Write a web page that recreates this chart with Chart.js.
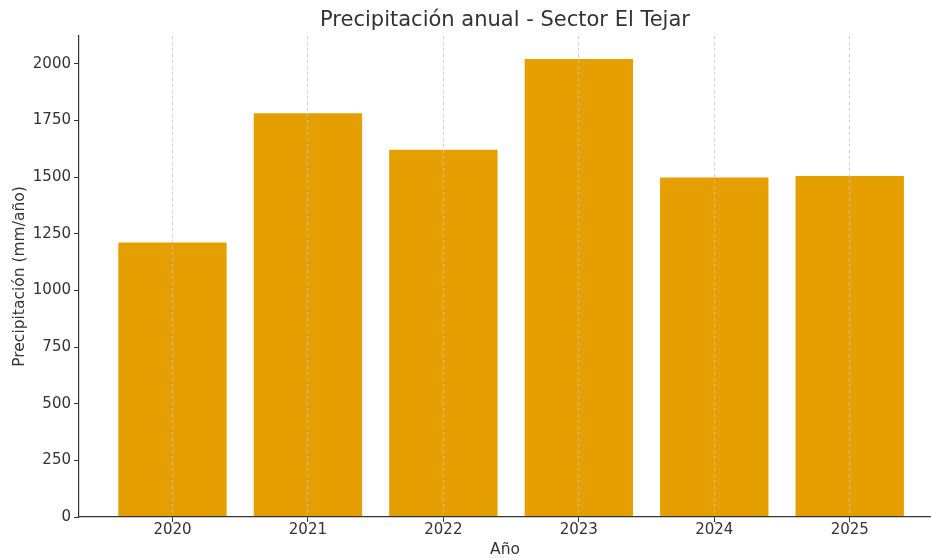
<!DOCTYPE html>
<html>
<head>
<meta charset="utf-8">
<script src="https://cdn.jsdelivr.net/npm/chart.js@4.4.1/dist/chart.umd.min.js"></script>
<style>
  html, body { margin: 0; padding: 0; background: #fff; }
  #wrap { width: 931px; height: 558px; }
</style>
</head>
<body>
<div id="wrap"><canvas id="rainChart"></canvas></div>
<script>
const years = [2020, 2021, 2022, 2023, 2024, 2025];
const rainfall = [1212, 1782, 1621, 2022, 1499, 1505];
const yTicks = [0, 250, 500, 750, 1000, 1250, 1500, 1750, 2000];

const chartTitle = 'Precipitación anual - Sector El Tejar';
const xLabel = 'Año';
const yLabel = 'Precipitación (mm/año)';

const family = "'DejaVu Sans', sans-serif";
const ink = '#333333';

// title centred over the plot area (matplotlib style), not the whole canvas
const plotTitle = {
    id: 'plotTitle',
    afterDraw(chart) {
        const { ctx, chartArea } = chart;
        ctx.save();
        ctx.font = '21px ' + family;
        ctx.fillStyle = ink;
        ctx.textAlign = 'center';
        ctx.textBaseline = 'middle';
        ctx.fillText(chartTitle, (chartArea.left + chartArea.right) / 2, 21);
        ctx.restore();
    }
};

const rainChart = new Chart('rainChart', {
    type: 'bar',
    data: {
        datasets: [{
            data: years.map((y, i) => ({ x: y, y: rainfall[i] })),
            backgroundColor: '#E69F00',
            borderWidth: 0,
            barPercentage: 0.8,
            categoryPercentage: 1.0
        }]
    },
    options: {
        responsive: true,
        maintainAspectRatio: false,
        animation: false,
        layout: { padding: { top: 36, right: 0, bottom: 0, left: 0 } },
        plugins: {
            legend: { display: false },
            tooltip: { enabled: false },
            title: { display: false }
        },
        scales: {
            x: {
                type: 'linear',
                min: 2019.31,
                max: 2025.6,
                offset: false,
                afterBuildTicks: s => { s.ticks = years.map(v => ({ value: v })); },
                afterFit: s => { s.height = 41; },
                // grid drawn above the bars, as in the reference
                grid: { z: 1, offset: false, color: '#c4c4c4', lineWidth: 0.8, drawTicks: true, tickLength: 5, tickColor: ink, tickWidth: 1, tickBorderDash: [] },
                border: { z: 1, display: true, color: ink, width: 1.2, dash: [3, 3] },
                ticks: { color: ink, font: { family, size: 15 }, padding: -1, autoSkip: false, maxRotation: 0, callback: v => String(v) },
                title: { display: true, text: xLabel, color: ink, font: { family, size: 15.5 }, padding: { top: 0, bottom: -1 } }
            },
            y: {
                min: 0,
                max: 2123,
                afterBuildTicks: s => { s.ticks = yTicks.map(v => ({ value: v })); },
                afterFit: s => { s.width = 79; },
                grid: { drawOnChartArea: false, drawTicks: true, tickLength: 5, tickColor: ink, tickWidth: 1 },
                border: { display: true, color: ink, width: 1.2 },
                ticks: { color: ink, font: { family, size: 15 }, padding: 3, callback: v => String(v) },
                title: { display: true, text: yLabel, color: ink, font: { family, size: 15.5 }, padding: { top: 11, bottom: 0 } }
            }
        }
    },
    plugins: [plotTitle]
});
</script>
</body>
</html>
